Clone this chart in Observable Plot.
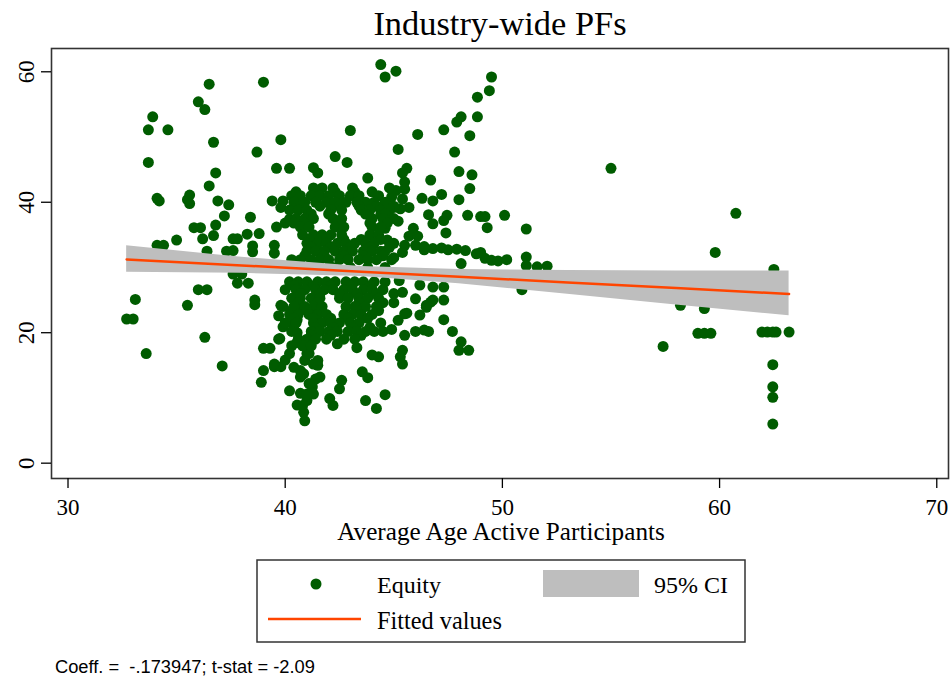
<!DOCTYPE html>
<html><head><meta charset="utf-8">
<script src="https://cdn.jsdelivr.net/npm/d3@7"></script>
<script src="https://cdn.jsdelivr.net/npm/@observablehq/plot@0.6"></script>
<style>
body{margin:0;background:#fff;}
#wrap{position:relative;width:951px;height:677px;overflow:hidden;}
#wrap svg{position:absolute;left:0;top:0;}
#wrap svg text{font-family:"Liberation Serif","Times New Roman",serif !important;}
#wrap svg text.note{font-family:"Liberation Sans",Arial,sans-serif !important;}
</style></head><body><div id="wrap"></div>
<script>
// Scattered points: [average age of active participants, equity %]
const scatteredPoints = [
  [36.5,58.1],[39.0,58.4],[36.0,55.4],[36.3,54.2],[33.9,53.1],[33.7,51.1],[34.6,51.1],[36.7,49.2],[39.8,49.6],[38.7,47.7],
  [33.7,46.1],[36.8,44.5],[39.6,45.2],[40.2,45.2],[36.5,42.5],[34.1,40.6],[34.2,40.2],[35.6,41.1],[35.6,39.8],[35.5,40.4],
  [36.9,40.2],[37.4,39.6],[37.2,37.9],[38.4,37.7],[39.4,40.2],[39.9,40.2],[39.8,39.2],[35.8,36.1],[36.1,36.1],[36.8,36.5],
  [36.7,34.9],[36.2,34.4],[35.0,34.2],[37.6,34.4],[37.8,34.4],[38.25,35.1],[38.8,35.2],[38.5,33.3],[39.5,33.4],[39.6,36.2],
  [40.0,36.8],[40.2,37.4],[37.6,32.6],[34.1,33.4],[34.4,33.4],[36.4,32.5],[39.5,32.2],[37.3,32.5],[38.5,32.4],[38.3,30.6],
  [32.7,22.1],[33.0,22.1],[33.1,25.1],[33.6,16.8],[35.5,24.2],[36.0,26.6],[36.4,26.6],[36.3,19.3],[37.1,14.9],[37.8,27.6],
  [38.3,27.6],[37.6,29.0],[38.0,29.0],[38.6,24.3],[38.6,25.0],[39.8,24.2],[39.7,22.6],[39.9,20.9],[39.7,19.0],[39.3,17.6],
  [39.0,17.6],[39.0,14.2],[38.9,12.4],[39.5,14.8],[39.8,14.8],[40.0,15.8],[40.2,16.8],[40.2,11.1],[40.55,8.9],[40.3,23.4],
  [40.4,21.1],[39.75,19.1],[39.5,15.2],[40.55,26.7],[40.55,24.0],[40.55,22.0],[40.55,20.0],[40.55,18.5],
  [40.9,6.5],[40.85,7.8],[40.8,8.85],[40.7,10.7],[41.3,10.6],[41.4,12.9],[41.6,13.2],[40.7,13.2],[40.9,15.75],[41.5,15.0],
  [40.7,14.2],[41.1,16.8],[40.4,14.7],[41.25,11.7],[41.0,9.6],[41.1,12.2],[41.0,10.6],[41.3,15.2],[41.5,15.75],[40.85,13.7],
  [41.0,16.8],
  [43.3,17.7],[44.0,16.6],[44.3,16.3],[43.55,14.0],[43.8,13.1],[42.6,12.7],[42.5,11.4],[42.05,9.9],[42.2,8.85],[43.7,9.6],
  [44.6,10.5],[44.2,8.4],[45.4,17.3],[45.3,16.3],[45.4,15.2],[45.5,19.6],[46.0,20.2],[46.4,20.4],[46.6,20.2],[45.2,21.9],
  [45.6,23.0],[46.2,22.7],[46.5,23.9],[46.7,24.7],[47.3,22.0],[47.3,25.0],[47.7,20.2],[48.1,18.6],[48.0,17.3],[48.45,17.3],
  [47.3,27.0],[46.8,27.0],[46.2,27.3],[46.0,25.2],[48.1,30.6],[42.4,18.3],[45.25,28.0],[45.0,26.0],[45.4,26.2],[46.5,24.2],
  [46.8,25.0],[45.5,22.9],[45.0,24.6],[44.9,20.5],
  [44.4,61.1],[44.6,59.2],[45.1,60.1],[43.0,51.0],[42.3,47.0],[42.85,46.1],[45.2,48.1],[41.3,45.3],[41.5,44.5],[43.8,43.7],
  [49.5,59.2],[49.4,57.1],[48.85,56.1],[48.1,53.1],[47.9,52.3],[48.85,53.1],[47.3,51.1],[46.1,50.4],[48.5,50.2],[47.8,47.7],
  [48.0,44.7],[48.6,44.2],[48.5,42.1],[46.7,43.4],[45.6,45.2],[45.4,44.5],[45.5,43.1],[47.2,41.2],[46.8,40.2],[46.3,40.6],
  [48.0,40.4],[46.6,38.1],[46.8,36.7],[47.45,38.0],[47.3,37.2],[47.4,35.3],[48.4,38.0],[49.0,37.8],[49.2,37.8],[49.3,36.1],
  [50.1,38.0],[51.1,35.9],[48.8,32.1],[45.2,37.1],[44.4,38.1],[44.6,36.0],[44.7,34.2],[45.3,39.0],[45.4,40.5],[45.5,42.0],
  [45.1,41.8],[44.9,40.8],[45.0,39.2],[45.7,39.2],
  [46.4,32.7],[46.8,32.9],[47.2,33.0],[47.5,32.7],[47.9,32.8],[48.3,32.6],[49.2,31.4],[49.5,31.1],[49.8,31.0],[50.2,31.2],
  [51.1,31.6],[51.1,30.3],[51.6,30.1],[52.06,30.2],[50.9,26.6],[49.0,32.3],
  [45.9,36.0],[45.7,34.8],[46.1,34.8],[45.5,33.4],[46.0,33.4],[46.4,33.2],[45.0,31.5],[45.4,32.3],[44.6,32.5],[44.9,31.2],
  [55.0,45.2],[60.75,38.3],[59.8,32.3],[58.2,24.2],[59.3,23.7],[62.5,29.7],[57.4,17.9],[59.0,19.9],[59.3,19.9],[59.6,19.9],
  [61.95,20.1],[62.2,20.1],[62.45,20.1],[62.6,20.1],[63.2,20.1],[62.45,15.1],[62.45,11.7],[62.45,10.1],[62.45,6.0]
];

// Dense core of the cloud, read row by row: equity level and the ages seen on that row
const denseRowEquity = [42.2, 41.6, 41.0, 40.0, 39.4, 38.8, 38.2, 37.5, 36.8, 36.2, 35.0, 34.3, 33.7, 33.1, 32.5, 31.8, 31.2, 30.0,
                        27.8, 27.2, 26.6, 26.0, 25.3, 24.6, 24.0, 23.4, 22.8, 22.2, 21.5, 20.8, 20.2, 19.6, 19.0, 18.0];
const denseRowAges = [
  [41.3, 41.7, 42.2, 43.1, 44.8],
  [40.5, 41.4, 42.3, 43.2, 44.0],
  [40.3, 40.7, 41.2, 41.6, 42.0, 42.5, 43.0, 43.4, 44.3],
  [40.4, 40.9, 41.4, 41.9, 42.3, 42.8, 43.3, 43.7, 44.1, 44.6],
  [40.7, 41.6, 42.5, 43.4, 44.2, 45.0],
  [40.2, 40.6, 41.0, 42.1, 42.6, 43.5, 43.9, 44.4, 44.8],
  [41.2, 42.0, 43.7, 44.6],
  [40.5, 40.9, 41.3, 42.2, 42.6, 44.0, 44.5, 45.0],
  [40.4, 40.9, 42.4, 43.9, 44.7],
  [40.7, 41.1, 42.3, 42.7, 44.0, 44.4],
  [40.8, 41.3, 41.7, 42.1, 42.6, 43.9, 44.3],
  [41.1, 41.9, 42.7, 43.5, 44.4],
  [41.0, 41.5, 41.9, 42.4, 42.8, 43.2, 43.7, 44.1, 45.0],
  [41.2, 42.1, 43.0, 43.9, 44.8],
  [41.0, 41.4, 41.8, 42.3, 42.7, 43.1, 43.6, 44.0, 44.4],
  [40.9, 41.8, 42.7, 43.6, 44.5],
  [40.3, 40.7, 41.2, 41.6, 42.0, 42.5, 42.9, 43.4, 43.8, 44.2],
  [40.6, 41.4, 42.2, 43.0, 43.8, 44.6],
  [40.2, 40.6, 41.0, 41.5, 41.9, 42.3, 42.8, 43.2, 43.6, 44.1, 44.6],
  [40.4, 41.3, 42.1, 43.0, 43.9],
  [40.0, 40.5, 40.9, 41.4, 41.8, 42.2, 42.7, 43.1, 43.6, 44.0, 44.5],
  [40.7, 41.6, 42.5, 43.3, 44.2],
  [40.3, 40.7, 41.2, 41.6, 42.5, 42.9, 43.4, 43.8, 44.3],
  [40.6, 41.5, 43.4, 44.5],
  [39.9, 40.4, 40.9, 41.3, 41.7, 42.8, 43.2, 43.7, 44.2],
  [41.0, 43.3, 44.3],
  [40.2, 40.6, 41.1, 41.5, 41.9, 42.7, 43.1, 43.5, 44.0],
  [40.4, 41.3, 42.1, 42.9, 43.8],
  [40.0, 40.5, 41.3, 41.7, 42.1, 42.5, 43.0, 43.4, 44.4],
  [41.4, 42.2, 43.1, 43.9],
  [40.3, 41.2, 41.6, 42.0, 42.4, 42.9, 43.3, 43.7, 44.1, 44.5],
  [41.2, 42.1, 43.5],
  [40.6, 41.0, 41.4, 41.9, 42.7, 43.2],
  [40.3, 40.8, 41.2]
];

// Fitted line and 95% CI band, read at a few ages
const fitAge  = [32.7, 38, 43.5, 48, 53, 58, 63.2];
const fitLine = [31.24, 30.32, 29.36, 28.58, 27.71, 26.84, 25.94];
const ciLow   = [29.25, 29.1, 28.6, 27.5, 25.9, 24.25, 22.6];
const ciHigh  = [33.35, 31.55, 30.15, 29.7, 29.55, 29.45, 29.45];

const xTicks = [30, 40, 50, 60, 70];
const yTicks = [0, 20, 40, 60];

const titleText = "Industry-wide PFs";
const xLabel = "Average Age Active Participants";
const legendLabels = ["Equity", "95% CI", "Fitted values"];
const noteText = "Coeff. =  -.173947; t-stat = -2.09";

const points = scatteredPoints.map(([age, equity]) => ({age, equity}));
denseRowEquity.forEach((eq, i) => denseRowAges[i].forEach(a => points.push({age: a, equity: eq})));
const band = fitAge.map((a, i) => ({age: a, fit: fitLine[i], lo: ciLow[i], hi: ciHigh[i]}));

const green = "#005c00", grey = "#bebebe", red = "#ff4500";
const serif = "Liberation Serif";

const chart = Plot.plot({
  width: 951, height: 677,
  marginLeft: 51, marginRight: 3, marginTop: 48, marginBottom: 199,
  x: {domain: [29.24, 70.54]},
  y: {domain: [-2.35, 63.57]},
  style: {fontFamily: serif, fontSize: "23px", color: "#000", background: "transparent"},
  marks: [
    Plot.dot(points, {x: "age", y: "equity", r: 5.5, fill: green}),
    Plot.areaY(band, {x: "age", y1: "lo", y2: "hi", fill: grey}),
    Plot.line(band, {x: "age", y: "fit", stroke: red, strokeWidth: 2.5}),
    Plot.frame({stroke: "#333", strokeWidth: 1.6}),
    Plot.axisX({ticks: xTicks, tickSize: 10, tickPadding: 10, label: null, tickFormat: d => String(d),
                strokeWidth: 1.3, fontFamily: serif, fontSize: 23, fontVariant: "normal"}),
    Plot.axisY({ticks: yTicks, tickSize: 10, tickPadding: 8, tickRotate: -90, label: null, tickFormat: d => String(d),
                strokeWidth: 1.3, fontFamily: serif, fontSize: 23, fontVariant: "normal"})
  ]
});
const wrap = document.getElementById("wrap");
wrap.appendChild(chart);

// Overlay: title, axis title, legend, note
const ov = d3.select(wrap).append("svg").attr("width", 951).attr("height", 677)
  .style("font-family", serif);
ov.append("text").attr("x", 500).attr("y", 35).attr("text-anchor", "middle")
  .attr("font-size", 34.4).text(titleText);
ov.append("text").attr("x", 501).attr("y", 540).attr("text-anchor", "middle")
  .attr("font-size", 25.2).text(xLabel);
ov.append("rect").attr("x", 257).attr("y", 560).attr("width", 488).attr("height", 82)
  .attr("fill", "none").attr("stroke", "#333").attr("stroke-width", 1.5);
ov.append("circle").attr("cx", 316).attr("cy", 584).attr("r", 5.5).attr("fill", green);
ov.append("rect").attr("x", 543).attr("y", 570).attr("width", 96).attr("height", 27).attr("fill", grey);
ov.append("line").attr("x1", 268).attr("x2", 361).attr("y1", 619).attr("y2", 619)
  .attr("stroke", red).attr("stroke-width", 2.5);
ov.append("text").attr("x", 377).attr("y", 592.5).attr("font-size", 24).text(legendLabels[0]);
ov.append("text").attr("x", 654).attr("y", 592.5).attr("font-size", 24).text(legendLabels[1]);
ov.append("text").attr("x", 377).attr("y", 629).attr("font-size", 24.3).text(legendLabels[2]);
ov.append("text").attr("class", "note").attr("x", 55).attr("y", 673).attr("font-size", 18.3)
  .style("white-space", "pre").text(noteText);
</script>
</body></html>
